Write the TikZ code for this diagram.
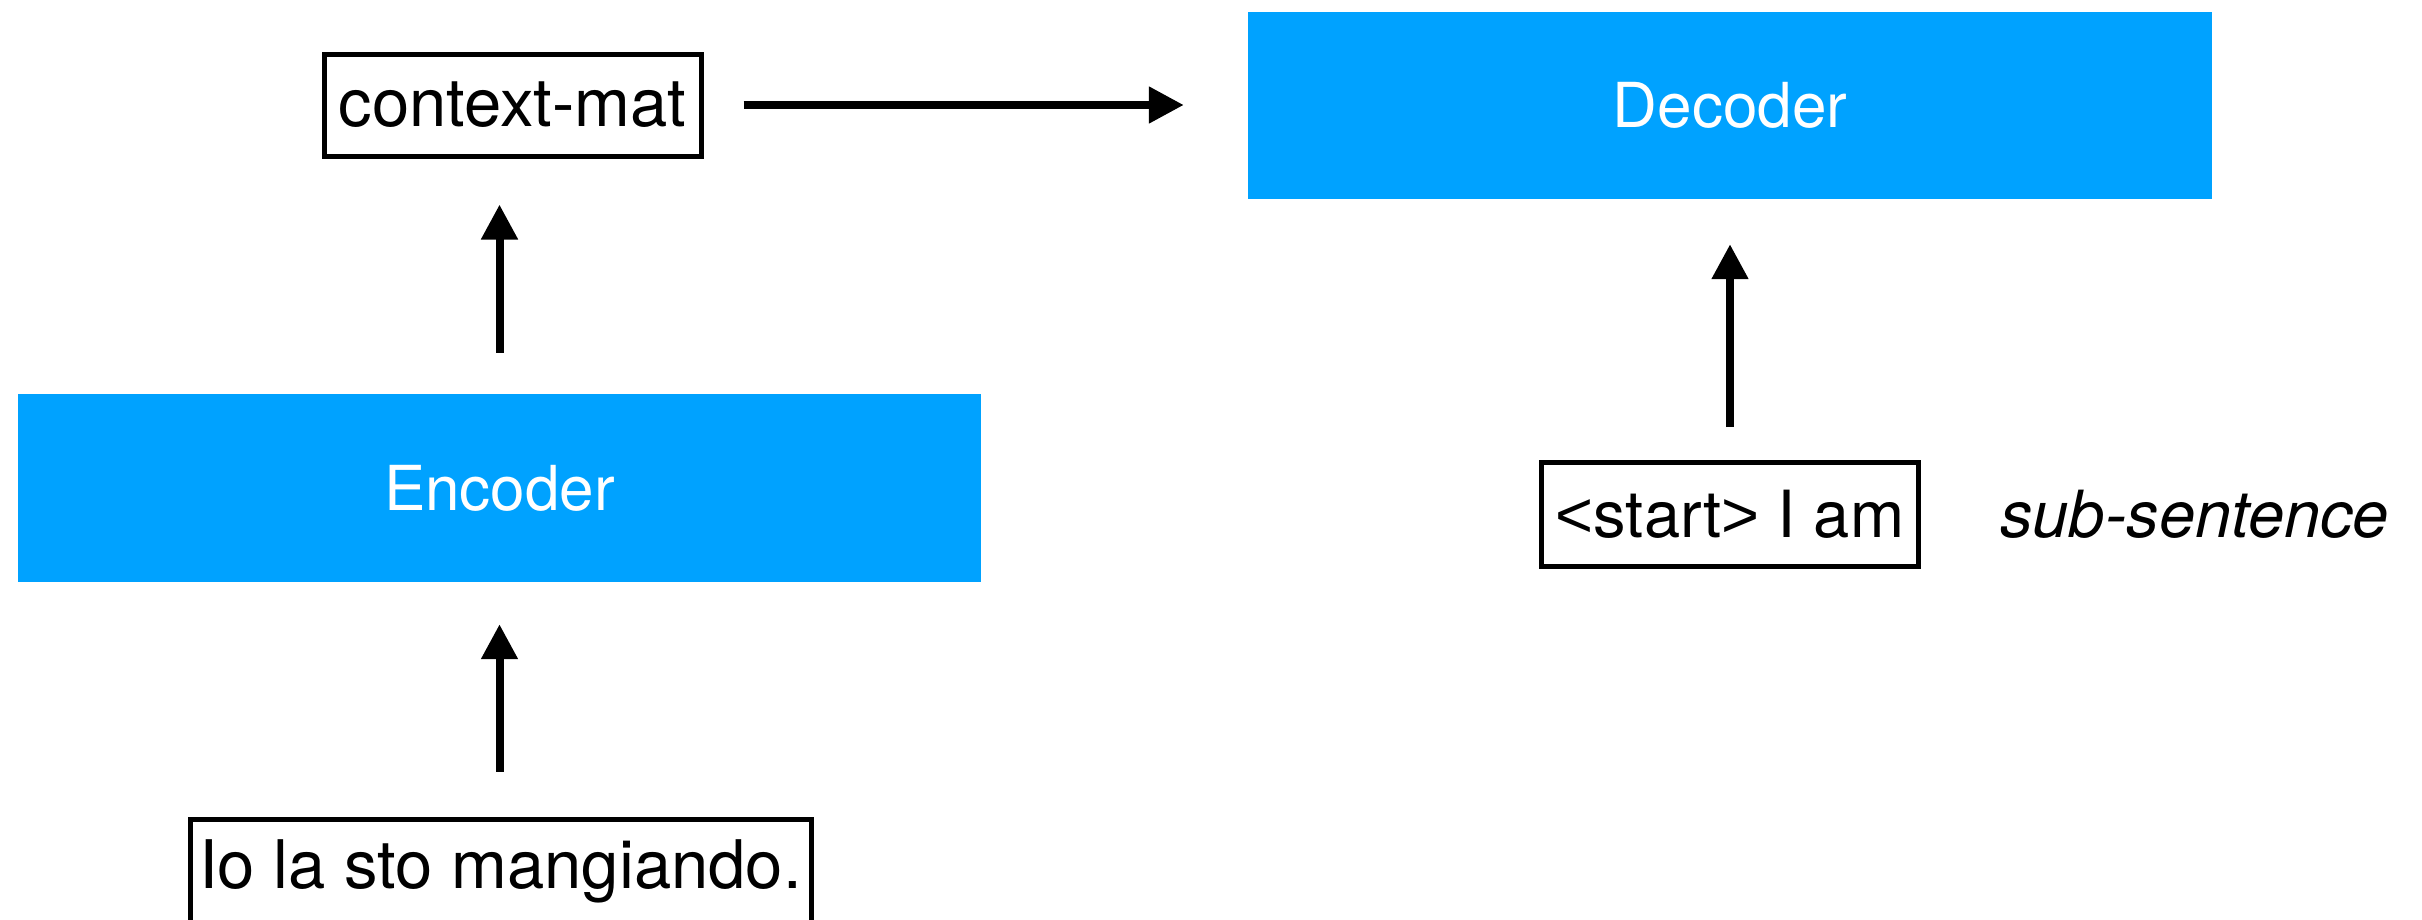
\documentclass[tikz,border=0pt]{standalone}
\usepackage{fontspec}
\setmainfont{TeX Gyre Heros}
\newfontfamily\anglefont{Liberation Sans}
\usetikzlibrary{arrows.meta}
\definecolor{boxblue}{RGB}{0,162,255}
\begin{document}
\begin{tikzpicture}[x=1pt,y=-1pt,
  blk/.style={fill=boxblue,draw=none,text=white,inner sep=0pt,
    font=\fontsize{62}{74}\selectfont},
  wordbox/.style={draw=black,line width=5pt,inner sep=0pt,
    font=\fontsize{65}{78}\selectfont},
  arr/.style={line width=8pt,-{Triangle[length=35pt,width=35pt]}}]
\useasboundingbox (0,0) rectangle (2422,919);
% encoder side
\node[blk,minimum width=963pt,minimum height=188pt] (enc) at (499.5,488) {Encoder};
\node[wordbox,minimum width=377pt,minimum height=102pt,font=\fontsize{67}{80}\selectfont] (ctx) at (512.5,105) {context-mat};
\node[wordbox,minimum width=621pt,minimum height=104pt,font=\fontsize{67}{80}\selectfont] (src) at (500.5,871) {Io la sto mangiando.};
% decoder side
\node[blk,minimum width=964pt,minimum height=187pt] (dec) at (1730,105.5) {Decoder};
\node[wordbox,minimum width=377pt,minimum height=104pt] (tgt) at (1730,514.5) {{\anglefont<}start{\anglefont>} I am};
\node[anchor=west,inner sep=0pt,font=\fontsize{65}{78}\selectfont\itshape] (sub) at (2000,514) {sub-sentence};
% connectors
\draw[arr,shorten <=41pt,shorten >=46pt] (enc.north) -- (enc.north |- ctx.south);
\draw[arr,shorten <=45pt,shorten >=42pt] (src.north -| enc.south) -- (enc.south);
\draw[arr,shorten <=40pt,shorten >=64pt] (ctx.east) -- (ctx.east -| dec.west);
\draw[arr,shorten <=33pt,shorten >=45pt] (tgt.north) -- (dec.south);
\end{tikzpicture}
\end{document}
